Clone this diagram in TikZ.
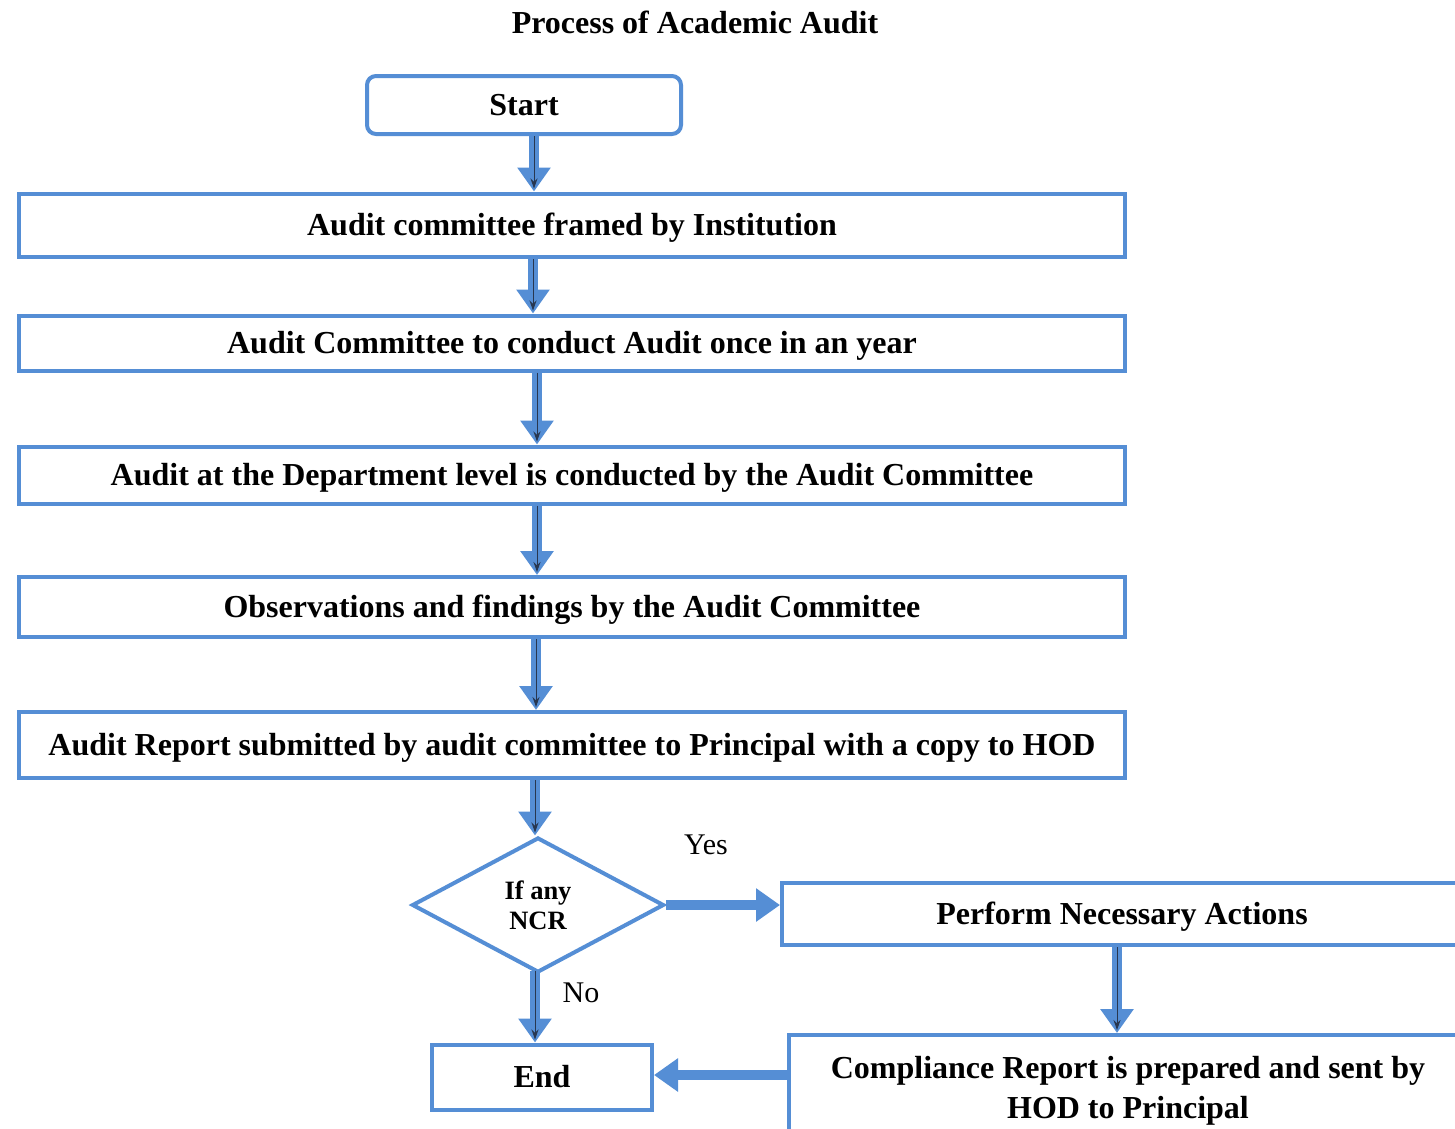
\documentclass[tikz,border=0pt]{standalone}
\usepackage{fontspec}
\setmainfont{Liberation Serif}
\usetikzlibrary{shapes.geometric,arrows.meta}
\definecolor{bl}{RGB}{85,142,213}
\definecolor{dk}{RGB}{40,55,80}
\tikzset{
  box/.style={draw=bl, line width=4pt, fill=white, inner sep=0pt,
    font=\fontsize{32}{40}\selectfont\bfseries, align=center},
  line1/.style={text height=28pt, text depth=7pt},
  arr/.style={draw=bl, line width=10pt, -{Triangle[length=24pt,width=32pt]}},
  inl/.style={draw=dk, line width=1pt, -{Stealth[length=10pt,width=7pt]}, shorten >=3pt},
  lbl/.style={font=\fontsize{30}{34}\selectfont, inner sep=0pt}
}
\newcommand\flowarrow[2]{\draw[arr] #1 -- #2; \draw[inl] #1 -- #2;}
\begin{document}
\begin{tikzpicture}[x=1pt,y=-1pt]
\useasboundingbox (0,0) rectangle (1455,1128);
\clip (0,0) rectangle (1455,1128);
\fill[white] (0,0) rectangle (1455,1128);

\node[font=\fontsize{32}{36}\selectfont\bfseries, inner sep=0pt] (title) at (695,22) {Process of Academic Audit};

\node[box, rounded corners=9pt, minimum width=314pt, minimum height=58pt] (start) at (524,105) {Start};
\node[box, line1, minimum width=1106pt, minimum height=63pt] (b1) at (572,225) {Audit committee framed by Institution};
\node[box, line1, minimum width=1106pt, minimum height=55pt] (b2) at (572,343) {Audit Committee to conduct Audit once in an year};
\node[box, line1, minimum width=1106pt, minimum height=57pt] (b3) at (572,475) {Audit at the Department level is conducted by the Audit Committee};
\node[box, line1, minimum width=1106pt, minimum height=60pt] (b4) at (572,607) {Observations and findings by the Audit Committee};
\node[box, line1, minimum width=1106pt, minimum height=66pt] (b5) at (572,745) {Audit Report submitted by audit committee to Principal with a copy to HOD};

\node[box, diamond, aspect=1.85, minimum width=252pt, minimum height=135pt,
      font=\fontsize{26.5}{30}\selectfont\bfseries] (ncr) at (538,905) {If any\\NCR};

\node[box, line1, minimum width=680pt, minimum height=62pt] (act) at (1122,914) {Perform Necessary Actions};
\node[box, minimum width=678pt, minimum height=112pt] (comp) at (1128,1091) {Compliance Report is prepared and sent by\\HOD to Principal};
\node[box, minimum width=220pt, minimum height=65pt] (end) at (542,1077) {End};

\node[lbl] (yes) at (706,845) {Yes};
\node[lbl] (no) at (581,993) {No};

% x positions of the vertical connectors
\coordinate (xa) at (534,0);
\coordinate (xb) at (533,0);
\coordinate (xc) at (537,0);
\coordinate (xd) at (536,0);
\coordinate (xe) at (535,0);
\coordinate (xf) at (1117,0);
% y position of the lower horizontal connector
\coordinate (yb) at (0,1075);

\flowarrow{(start.south -| xa)}{(b1.north -| xa)}
\flowarrow{(b1.south -| xb)}{(b2.north -| xb)}
\flowarrow{(b2.south -| xc)}{(b3.north -| xc)}
\flowarrow{(b3.south -| xc)}{(b4.north -| xc)}
\flowarrow{(b4.south -| xd)}{(b5.north -| xd)}
\flowarrow{(b5.south -| xe)}{(ncr.north -| xe)}
\flowarrow{([yshift=4pt]ncr.south -| xe)}{(end.north -| xe)}
\flowarrow{(act.south -| xf)}{(comp.north -| xf)}
\draw[arr] (ncr.east) -- (act.west |- ncr.east);
\draw[arr] (comp.west |- yb) -- (end.east |- yb);
\end{tikzpicture}
\end{document}
